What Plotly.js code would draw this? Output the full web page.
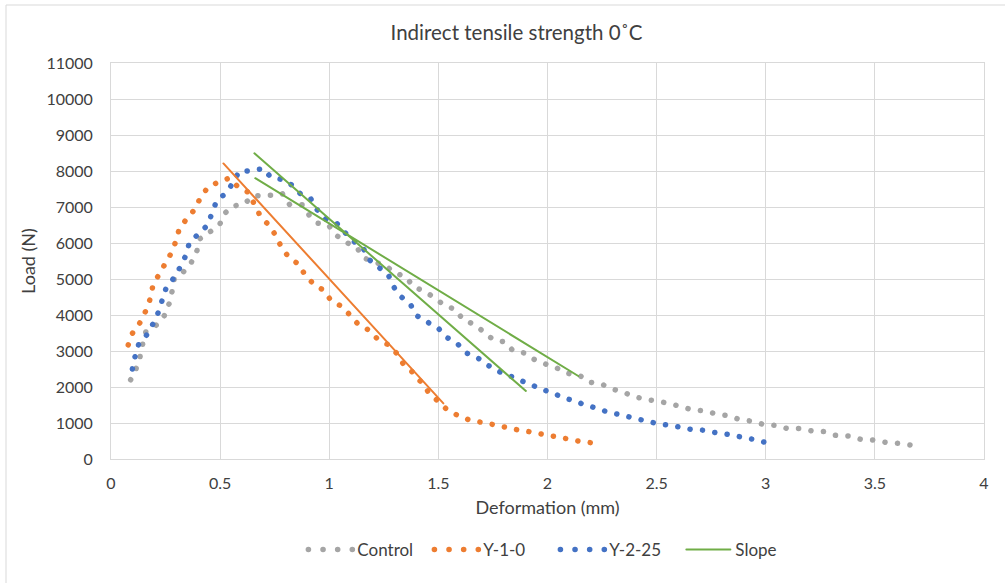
<!DOCTYPE html>
<html>
<head>
<meta charset="utf-8">
<script src="https://cdn.plot.ly/plotly-3.0.1.min.js"></script>
<style>
  html, body { margin: 0; padding: 0; background: #ffffff; }
  #chart { width: 1005px; height: 583px; }
  .js-plotly-plot .scatterlayer path.js-line,
  .js-plotly-plot .legendlines path.js-line { stroke-linecap: round; }
</style>
</head>
<body>
<div id="chart"></div>
<script>
// ---- Data ----
const controlX = [0.09,0.115,0.133,0.145,0.160,0.206,0.244,0.266,0.280,0.290,0.331,0.368,0.394,0.408,0.454,0.499,0.524,0.556,0.609,0.652,0.690,0.744,0.784,0.818,0.878,0.907,0.947,0.996,1.031,1.077,1.126,1.156,1.210,1.255,1.301,1.350,1.385,1.439,1.480,1.527,1.579,1.613,1.664,1.706,1.750,1.805,1.840,1.897,1.938,1.990,2.042,2.089,2.146,2.187,2.245,2.293,2.347,2.392,2.447,2.503,2.558,2.609,2.664,2.718,2.773,2.830,2.883,2.938,2.991,3.045,3.099,3.157,3.212,3.268,3.319,3.378,3.433,3.490,3.547,3.604,3.661];
const controlY = [2200,2510,2840,3190,3540,3710,3980,4310,4660,5010,5190,5460,5790,6120,6310,6530,6840,7020,7080,7310,7320,7330,7380,7070,7060,6780,6550,6500,6220,6020,5880,5590,5460,5390,5160,5070,4790,4650,4490,4270,4150,3870,3740,3540,3320,3250,3020,2940,2770,2640,2530,2380,2330,2140,2090,1950,1860,1740,1660,1610,1540,1460,1365,1340,1250,1200,1090,1050,955,935,845,845,780,760,660,640,550,530,465,435,390];

const y10X = [0.079,0.098,0.133,0.159,0.179,0.191,0.217,0.247,0.275,0.298,0.313,0.348,0.386,0.411,0.446,0.495,0.542,0.582,0.632,0.657,0.684,0.724,0.756,0.781,0.815,0.862,0.889,0.930,0.976,1.008,1.057,1.095,1.133,1.182,1.220,1.271,1.309,1.339,1.382,1.420,1.454,1.497,1.538,1.589,1.637,1.695,1.749,1.802,1.859,1.915,1.970,2.028,2.085,2.140,2.196];
const y10Y = [3170,3490,3790,4110,4440,4790,5100,5410,5710,6060,6400,6680,6950,7280,7560,7700,7800,7560,7400,7070,6750,6490,6200,5880,5600,5400,5110,4850,4680,4400,4240,4000,3740,3580,3340,3170,2935,2640,2410,2140,1860,1610,1380,1210,1095,1020,960,890,815,760,695,630,565,500,455];

const y225X = [0.098,0.110,0.127,0.164,0.194,0.218,0.235,0.253,0.290,0.319,0.344,0.359,0.402,0.443,0.463,0.484,0.527,0.560,0.587,0.646,0.698,0.733,0.787,0.829,0.869,0.916,0.945,0.985,1.034,1.072,1.113,1.156,1.184,1.228,1.271,1.294,1.329,1.373,1.404,1.454,1.500,1.541,1.589,1.630,1.682,1.726,1.772,1.824,1.871,1.921,1.966,2.022,2.070,2.123,2.175,2.228,2.277,2.334,2.386,2.438,2.491,2.546,2.603,2.657,2.715,2.771,2.826,2.881,2.934,2.991];
const y225Y = [2500,2840,3190,3450,3770,4090,4420,4760,5040,5350,5670,6010,6260,6500,6840,7170,7390,7680,7990,8010,8070,7820,7760,7610,7360,7220,6920,6660,6550,6290,6040,5850,5530,5320,5110,4790,4510,4280,3970,3790,3630,3370,3190,2940,2800,2610,2440,2320,2190,2090,1940,1850,1700,1620,1490,1410,1300,1230,1150,1075,1000,945,890,824,800,731,685,620,556,472];

// Slope lines (two segments in one series) and the Y-1-0 trend line
const slopeX = [0.657,1.901,null,0.661,2.141];
const slopeY = [8490,1890,null,7800,2306];
const trendX = [0.515,1.523];
const trendY = [8210,1546];

const xTicks = [0,0.5,1,1.5,2,2.5,3,3.5,4];
const xTickText = ['0','0.5','1','1.5','2','2.5','3','3.5','4'];
const yTicks = [0,1000,2000,3000,4000,5000,6000,7000,8000,9000,10000,11000];
const yTickText = ['0','1000','2000','3000','4000','5000','6000','7000','8000','9000','10000','11000'];

const FONT = 'Lato, "Open Sans", sans-serif';
const TXT = '#404040';
const DOT_PERIOD = 12.5;
const DOTS = '0.1px,12.4px';

const traces = [
  {x: controlX, y: controlY, name: 'Control', type: 'scatter', mode: 'lines',
   line: {color: '#A5A5A5', width: 5.5, dash: DOTS, simplify: false}},
  {x: y10X, y: y10Y, name: 'Y-1-0', type: 'scatter', mode: 'lines',
   line: {color: '#ED7D31', width: 5.5, dash: DOTS, simplify: false}},
  {x: y225X, y: y225Y, name: 'Y-2-25', type: 'scatter', mode: 'lines',
   line: {color: '#4472C4', width: 5.5, dash: DOTS, simplify: false}},
  {x: slopeX, y: slopeY, name: 'Slope', type: 'scatter', mode: 'lines',
   connectgaps: false, line: {color: '#70AD47', width: 2}},
  {x: trendX, y: trendY, name: 'trend', type: 'scatter', mode: 'lines',
   showlegend: false, line: {color: '#ED7D31', width: 2}}
];

const layout = {
  width: 1005, height: 583,
  margin: {l: 111, r: 21, t: 63, b: 124},
  paper_bgcolor: '#ffffff', plot_bgcolor: '#ffffff',
  font: {family: FONT, color: TXT, size: 16},
  title: {text: 'Indirect tensile strength 0˚C', font: {family: FONT, size: 20.5, color: TXT},
          x: 0.514, xref: 'container', xanchor: 'center', y: 1 - 33/583, yref: 'container', yanchor: 'middle'},
  xaxis: {range: [0, 4], tickmode: 'array', tickvals: xTicks, ticktext: xTickText,
          showgrid: true, gridcolor: '#D9D9D9', gridwidth: 1, zeroline: false,
          showline: true, linecolor: '#D9D9D9', linewidth: 1, mirror: true, ticks: '',
          ticklabelstandoff: 10, tickfont: {size: 16, color: TXT},
          title: {text: 'Deformation (mm)', font: {size: 18, color: TXT}, standoff: 10}},
  yaxis: {range: [0, 11000], tickmode: 'array', tickvals: yTicks, ticktext: yTickText,
          showgrid: true, gridcolor: '#D9D9D9', gridwidth: 1, zeroline: false,
          showline: true, linecolor: '#D9D9D9', linewidth: 1, mirror: true, ticks: '',
          ticklabelstandoff: 14, tickfont: {size: 16, color: TXT},
          title: {text: 'Load (N)', font: {size: 18, color: TXT}, standoff: 6}},
  legend: {orientation: 'h', x: 0.509, xanchor: 'center', y: (459-550)/396, yanchor: 'middle',
           font: {size: 17, color: TXT}, traceorder: 'normal', itemwidth: 44,
           entrywidth: 67, entrywidthmode: 'pixels'},
  shapes: [{type: 'rect', xref: 'paper', yref: 'paper',
            x0: (6-111)/873, x1: (1012-111)/873, y0: (459-590)/396, y1: (459-5)/396,
            line: {color: '#D9D9D9', width: 1}, fillcolor: 'rgba(0,0,0,0)', layer: 'below'}],
  showlegend: true
};

Plotly.newPlot('chart', traces, layout, {displayModeBar: false, staticPlot: true}).then(function (gd) {
  // fit the round-dot pattern so that each dotted curve starts and ends on a dot
  gd.querySelectorAll('.scatterlayer path.js-line').forEach(function (p) {
    var da = p.style.strokeDasharray || '';
    if (da.indexOf('0.1') !== 0) return;
    var L = p.getTotalLength();
    var n = Math.max(1, Math.round(L / DOT_PERIOD));
    var per = (L - 0.1) / n;
    p.style.strokeDasharray = '0.1px,' + (per - 0.1) + 'px';
  });
  gd.querySelectorAll('.legendlines path.js-line').forEach(function (p) {
    var da = p.style.strokeDasharray || '';
    if (da.indexOf('0.1') !== 0) return;
    var L = p.getTotalLength();
    var per = (L - 0.1) / 3;
    p.style.strokeDasharray = '0.1px,' + (per - 0.1) + 'px';
  });
});
</script>
</body>
</html>
